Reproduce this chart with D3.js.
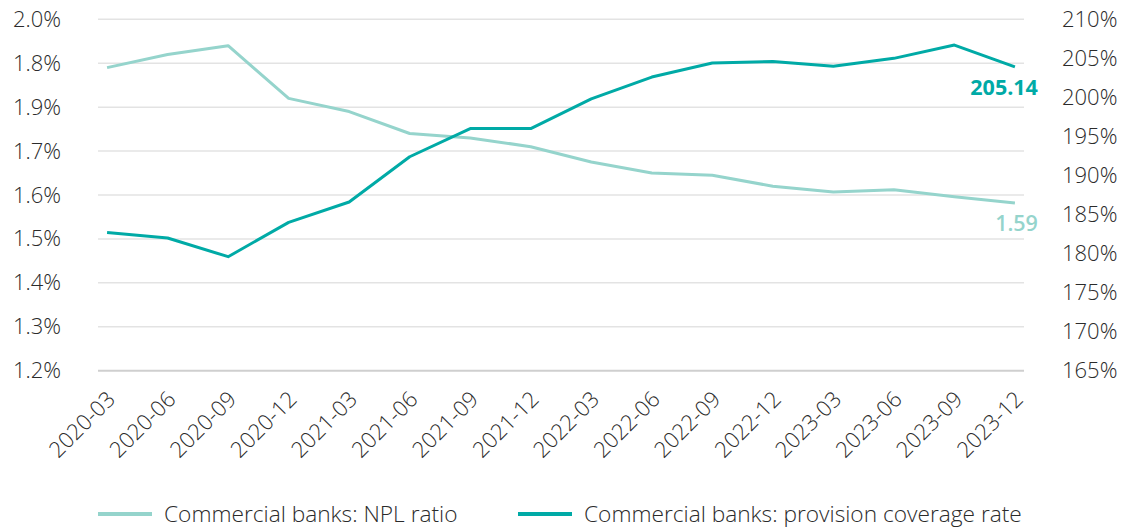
<!DOCTYPE html>
<html>
<head>
<meta charset="utf-8">
<script src="https://cdn.jsdelivr.net/npm/d3@7"></script>
<style>
    body { margin: 0; background: #fff; }
    svg text { font-family: "Open Sans", sans-serif; }
</style>
</head>
<body>
<div id="graph"></div>
<script>
// Quarter labels along the bottom
const categories = ["2020-03", "2020-06", "2020-09", "2020-12", "2021-03", "2021-06", "2021-09", "2021-12",
    "2022-03", "2022-06", "2022-09", "2022-12", "2023-03", "2023-06", "2023-09", "2023-12"];

// NPL ratio (%), left axis
const nplRatio = [1.89, 1.92, 1.94, 1.82, 1.79, 1.74, 1.73, 1.71, 1.675, 1.65, 1.645, 1.62, 1.607, 1.612, 1.596, 1.582];

// Provision coverage rate (%), right axis
const coverageRate = [182.7, 182.0, 179.6, 184.0, 186.6, 192.4, 196.0, 196.0, 199.8, 202.6, 204.4, 204.6, 204.0, 205.0, 206.7, 203.9];

// Tick labels as printed on the chart (left side top to bottom)
const leftTicks = [2.0, 1.9, 1.8, 1.7, 1.6, 1.5, 1.4, 1.3, 1.2];
const leftTickLabels = ["2.0%", "1.8%", "1.9%", "1.7%", "1.6%", "1.5%", "1.4%", "1.3%", "1.2%"];
const rightTicks = [165, 170, 175, 180, 185, 190, 195, 200, 205, 210];

const endLabels = ["1.59", "205.14"];
const seriesNames = ["Commercial banks: NPL ratio", "Commercial banks: provision coverage rate"];

const CHART = {
    width: 1137,
    height: 528,
    left: 98,
    right: 1024,
    top: 19.3,
    bottom: 370.7,
    colors: {
        npl: "#95d4cc",
        coverage: "#00aaa6",
        grid: "#e3e3e3",
        axis: "#cfcfcf",
        text: "#2b2b2b"
    },
    font: 22,
    legendFont: 22.7,
    weight: 300
};

const svg = d3.select("#graph")
    .append("svg")
    .attr("width", CHART.width)
    .attr("height", CHART.height);

// scales
const xScale = d3.scalePoint()
    .domain(categories)
    .range([CHART.left, CHART.right])
    .padding(0.15);

const yLeft = d3.scaleLinear()
    .domain([1.2, 2.0])
    .range([CHART.bottom, CHART.top]);

const yRight = d3.scaleLinear()
    .domain([165, 210])
    .range([CHART.bottom, CHART.top]);

// gridlines follow the left axis
svg.append("g")
    .selectAll("line")
    .data(leftTicks.filter(d => d > 1.2))
    .join("line")
    .attr("x1", CHART.left)
    .attr("x2", CHART.right)
    .attr("y1", d => yLeft(d))
    .attr("y2", d => yLeft(d))
    .attr("stroke", CHART.colors.grid)
    .attr("stroke-width", 1.5);

// bottom axis line + rotated labels
const xAxis = svg.append("g")
    .attr("transform", `translate(0, ${CHART.bottom})`)
    .call(d3.axisBottom(xScale).tickSize(0).tickPadding(0));
xAxis.select(".domain")
    .attr("d", `M${CHART.left},0H${CHART.right}`)
    .attr("stroke", CHART.colors.axis)
    .attr("stroke-width", 2);
xAxis.selectAll("text")
    .attr("font-size", CHART.font)
    .attr("font-weight", CHART.weight)
    .attr("fill", CHART.colors.text)
    .attr("text-anchor", "end")
    .attr("dy", 0)
    .attr("transform", "translate(9, 30) rotate(-45)");

// left axis
const leftAxis = svg.append("g")
    .attr("transform", `translate(61, 0)`)
    .call(d3.axisLeft(yLeft)
        .tickValues(leftTicks)
        .tickSize(0)
        .tickFormat((d, i) => leftTickLabels[i]));
leftAxis.select(".domain").remove();
leftAxis.selectAll("text")
    .attr("font-size", CHART.font)
    .attr("font-weight", CHART.weight)
    .attr("fill", CHART.colors.text)
    .attr("x", 0);

// right axis
const rightAxis = svg.append("g")
    .attr("transform", `translate(1062, 0)`)
    .call(d3.axisRight(yRight)
        .tickValues(rightTicks)
        .tickSize(0)
        .tickFormat(d => d + "%"));
rightAxis.select(".domain").remove();
rightAxis.selectAll("text")
    .attr("font-size", CHART.font)
    .attr("font-weight", CHART.weight)
    .attr("fill", CHART.colors.text)
    .attr("x", 0);

// lines
const nplLine = d3.line()
    .x((d, i) => xScale(categories[i]))
    .y(d => yLeft(d));

const coverageLine = d3.line()
    .x((d, i) => xScale(categories[i]))
    .y(d => yRight(d));

svg.append("path")
    .datum(nplRatio)
    .attr("d", nplLine)
    .attr("fill", "none")
    .attr("stroke", CHART.colors.npl)
    .attr("stroke-width", 3)
    .attr("stroke-linejoin", "round");

svg.append("path")
    .datum(coverageRate)
    .attr("d", coverageLine)
    .attr("fill", "none")
    .attr("stroke", CHART.colors.coverage)
    .attr("stroke-width", 3)
    .attr("stroke-linejoin", "round");

// end labels
const last = categories[categories.length - 1];
svg.append("text")
    .attr("x", xScale(last) + 23)
    .attr("y", yLeft(nplRatio[nplRatio.length - 1]) + 28.5)
    .attr("text-anchor", "end")
    .attr("font-size", 21.5)
    .attr("font-weight", 600)
    .attr("fill", CHART.colors.npl)
    .text(endLabels[0]);

svg.append("text")
    .attr("x", xScale(last) + 23)
    .attr("y", yRight(coverageRate[coverageRate.length - 1]) + 28)
    .attr("text-anchor", "end")
    .attr("font-size", 21.5)
    .attr("font-weight", 700)
    .attr("fill", CHART.colors.coverage)
    .text(endLabels[1]);

// legend
const legendItems = [
    { name: seriesNames[0], color: CHART.colors.npl, x: 98 },
    { name: seriesNames[1], color: CHART.colors.coverage, x: 518 }
];
const legend = svg.append("g")
    .attr("transform", "translate(0, 514)");
legendItems.forEach(item => {
    legend.append("line")
        .attr("x1", item.x)
        .attr("x2", item.x + 54)
        .attr("y1", 0)
        .attr("y2", 0)
        .attr("stroke", item.color)
        .attr("stroke-width", 4);
    legend.append("text")
        .attr("x", item.x + 66)
        .attr("y", 8)
        .attr("font-size", CHART.legendFont)
        .attr("font-weight", CHART.weight)
        .attr("fill", CHART.colors.text)
        .text(item.name);
});
</script>
</body>
</html>
